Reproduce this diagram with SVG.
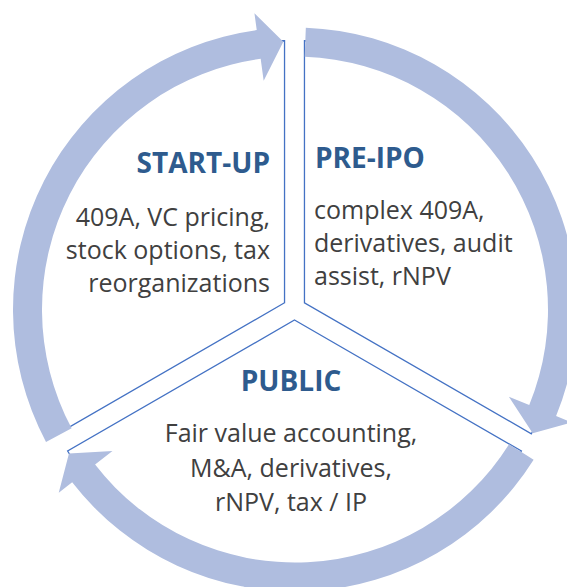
<svg xmlns="http://www.w3.org/2000/svg" width="567" height="587" viewBox="0 0 567 587">
<style>
.sector{fill:#ffffff;stroke:#4472C4;stroke-width:1.3;stroke-linejoin:miter}
.arrow{fill:#AFBDDF;stroke:none}
.title{font-family:"Open Sans","Noto Sans","Liberation Sans",sans-serif;font-weight:bold;font-size:28px;fill:#2E5B8E}
.body{font-family:"Open Sans","Noto Sans","Liberation Sans",sans-serif;font-size:25px;fill:#404040}
</style>
<rect width="567" height="587" fill="#ffffff"/>
<g id="node-startup">
<path class="sector" d="M284.54,302.75 L57.64,433.75 A262,262 0 0 1 284.54,40.75 Z"/>
<text class="title" x="270" y="173" text-anchor="end">START-UP</text>
<text class="body" text-anchor="end"><tspan x="270" y="226">409A, VC pricing,</tspan><tspan x="270" y="259">stock options, tax</tspan><tspan x="270" y="292">reorganizations</tspan></text>
</g>
<g id="node-preipo">
<path class="sector" d="M304.46,302.75 L304.46,40.75 A262,262 0 0 1 531.36,433.75 Z"/>
<text class="title" x="315" y="168">PRE-IPO</text>
<text class="body"><tspan x="314" y="219">complex 409A,</tspan><tspan x="314" y="252">derivatives, audit</tspan><tspan x="314" y="285">assist, rNPV</tspan></text>
</g>
<g id="node-public">
<path class="sector" d="M294.5,320 L521.4,451 A262,262 0 0 1 67.6,451 Z"/>
<text class="title" x="291" y="391" text-anchor="middle">PUBLIC</text>
<text class="body" text-anchor="middle"><tspan x="291" y="442">Fair value accounting,</tspan><tspan x="291" y="477">M&amp;A, derivatives,</tspan><tspan x="291" y="511">rNPV, tax / IP</tspan></text>
</g>
<g id="connectors">
<path class="arrow" d="M46.01,441.89 A282,282 0 0 1 256.73,30.11 L254.43,13.27 L283.31,41.75 L263.66,80.64 L260.67,58.84 A253,253 0 0 0 71.61,428.28 Z"/>
<path class="arrow" d="M305.83,27.71 A282,282 0 0 1 556.10,416.05 L571.83,422.47 L532.72,433.25 L508.88,396.78 L529.25,405.09 A253,253 0 0 0 304.71,56.69 Z"/>
<path class="arrow" d="M533.63,459.77 A282,282 0 0 1 72.17,482.34 L58.74,492.76 L68.97,453.5 L112.47,451.08 L95.09,464.57 A253,253 0 0 0 509.09,444.32 Z"/>
</g>
</svg>
